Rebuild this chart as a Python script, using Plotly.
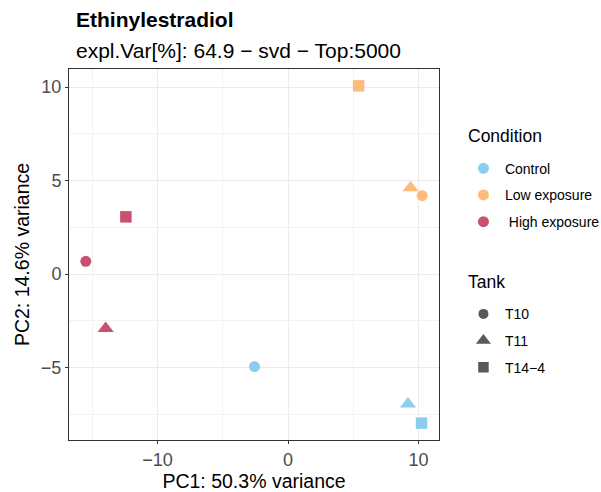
import plotly.graph_objects as go

# PCA scores per sample
conditions = ["Control", "Control", "Control",
              "Low exposure", "Low exposure", "Low exposure",
              "High exposure", "High exposure", "High exposure"]
tanks = ["T10", "T11", "T14-4"] * 3
pc1 = [-2.57, 9.19, 10.23, 10.28, 9.39, 5.41, -15.50, -13.98, -12.43]
pc2 = [-4.95, -6.95, -7.98, 4.19, 4.62, 10.07, 0.68, -2.91, 3.06]

condition_levels = ["Control", "Low exposure", "High exposure"]
condition_labels = ["Control", "Low exposure", "\u00a0High exposure"]
condition_colors = ["#8DCDF0", "#FDBB7C", "#C9506F"]
tank_levels = ["T10", "T11", "T14-4"]
tank_labels = ["T10", "T11", "T14\u22124"]
tank_symbols = ["circle", "triangle-up", "square"]
tank_sizes = [11, 14, 11.5]

title = "Ethinylestradiol"
subtitle = "expl.Var[%]: 64.9 \u2212 svd \u2212 Top:5000"
x_title = "PC1: 50.3% variance"
y_title = "PC2: 14.6% variance"
legend_titles = ["Condition", "Tank"]

FONT = "Liberation Sans, Arial, Helvetica, sans-serif"

col_of = dict(zip(condition_levels, condition_colors))
sym_of = dict(zip(tank_levels, tank_symbols))
size_of = dict(zip(tank_levels, tank_sizes))

fig = go.Figure()

fig.add_trace(go.Scatter(
    x=pc1, y=pc2, mode="markers", showlegend=False, hoverinfo="skip",
    marker=dict(color=[col_of[c] for c in conditions],
                symbol=[sym_of[t] for t in tanks],
                size=[size_of[t] for t in tanks],
                opacity=1, line=dict(width=0)),
))

# legend entries: colour key
for lvl, lab, col in zip(condition_levels, condition_labels, condition_colors):
    fig.add_trace(go.Scatter(
        x=[None], y=[None], mode="markers", name=lab, legend="legend",
        legendgroup="c_" + lvl,
        marker=dict(color=col, symbol="circle", size=11, line=dict(width=0)),
    ))

# legend entries: shape key
for lvl, lab, sym, sz in zip(tank_levels, tank_labels, tank_symbols, tank_sizes):
    fig.add_trace(go.Scatter(
        x=[None], y=[None], mode="markers", name=lab, legend="legend2",
        legendgroup="t_" + lvl,
        marker=dict(color="#595959", symbol=sym, size=sz - 1, line=dict(width=0)),
    ))


def padded(vals, frac=0.05):
    lo, hi = min(vals), max(vals)
    span = hi - lo
    return [lo - frac * span, hi + frac * span]


axis_common = dict(
    showline=True, linecolor="#333333", linewidth=1, mirror=True,
    showgrid=True, gridcolor="#EBEBEB", gridwidth=1.2,
    zeroline=False,
    ticks="outside", ticklen=3, tickwidth=1, tickcolor="#333333",
    tickfont=dict(family=FONT, size=18, color="#4D4D4D"),
)

fig.update_xaxes(
    range=padded(pc1), tickvals=[-10, 0, 10],
    minor=dict(tickvals=[-15, -5, 5], showgrid=True, gridcolor="#F2F2F2",
               gridwidth=0.8, ticks=""),
    title=dict(text=x_title, font=dict(family=FONT, size=19.5, color="#000000"),
               standoff=2),
    **axis_common,
)
fig.update_yaxes(
    range=padded(pc2), tickvals=[-5, 0, 5, 10],
    minor=dict(tickvals=[-7.5, -2.5, 2.5, 7.5], showgrid=True,
               gridcolor="#F2F2F2", gridwidth=0.8, ticks=""),
    title=dict(text=y_title, font=dict(family=FONT, size=19.5, color="#000000"),
               standoff=6),
    **axis_common,
)

legend_common = dict(
    xanchor="left", yanchor="top", font=dict(size=14),
    traceorder="grouped", tracegroupgap=5.5, itemwidth=33,
    bgcolor="rgba(0,0,0,0)",
)

fig.update_layout(
    width=601, height=492,
    margin=dict(l=69, r=162, t=69, b=51.5, autoexpand=False),
    paper_bgcolor="white", plot_bgcolor="white",
    font=dict(family=FONT, color="#000000"),
    legend=dict(x=1.062, y=0.7745, **legend_common),
    legend2=dict(x=1.062, y=0.382, **legend_common),
    annotations=[
        dict(text="<b>" + title + "</b>", xref="paper", yref="paper",
             x=0.013, y=1.133, xanchor="left", yanchor="middle",
             showarrow=False, font=dict(family=FONT, size=21, color="#000000")),
        dict(text=subtitle, xref="paper", yref="paper",
             x=0.013, y=1.05, xanchor="left", yanchor="middle",
             showarrow=False, font=dict(family=FONT, size=21, color="#000000")),
        dict(text=legend_titles[0], xref="paper", yref="paper",
             x=1.072, y=0.82, xanchor="left", yanchor="middle",
             showarrow=False, font=dict(family=FONT, size=17.5, color="#000000")),
        dict(text=legend_titles[1], xref="paper", yref="paper",
             x=1.072, y=0.426, xanchor="left", yanchor="middle",
             showarrow=False, font=dict(family=FONT, size=17.5, color="#000000")),
    ],
)

fig.write_html("out.html")
